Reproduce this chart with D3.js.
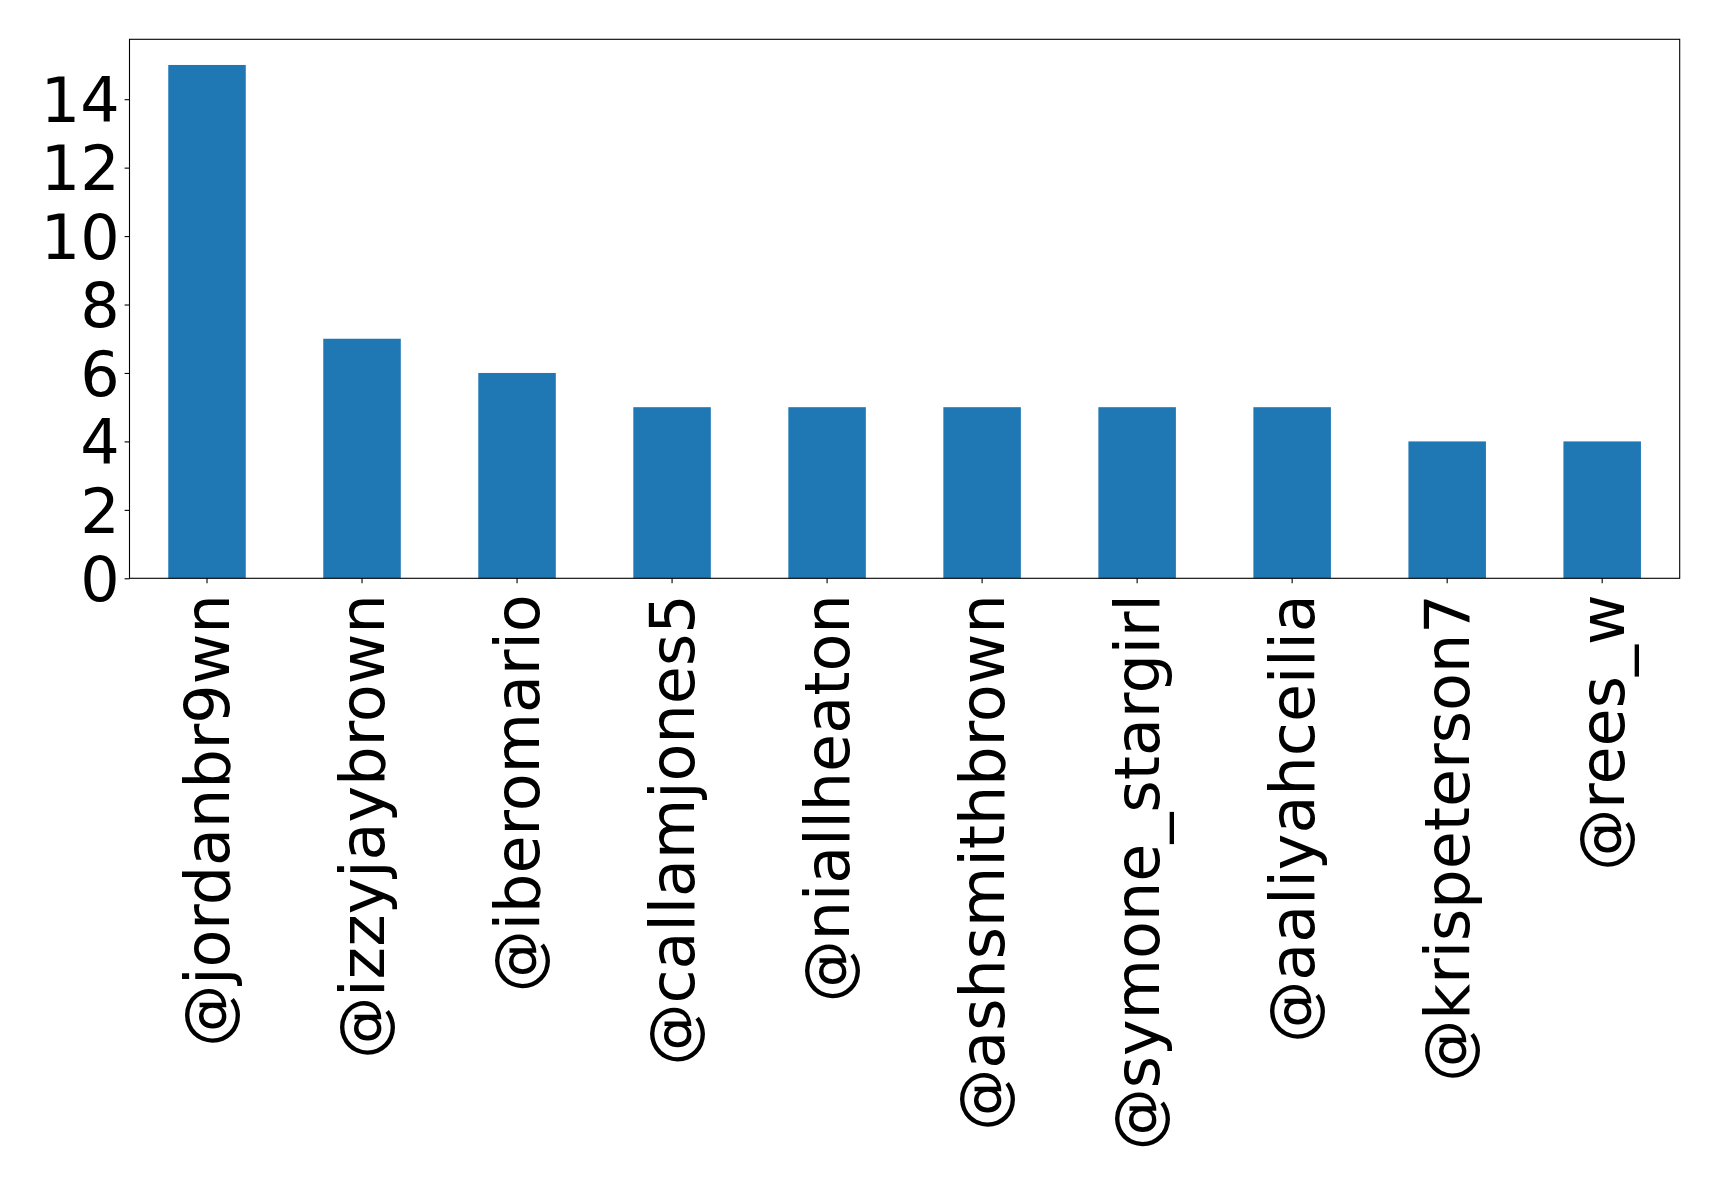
<!DOCTYPE html>
<html>
<head>
<meta charset="utf-8">
<script src="https://cdn.jsdelivr.net/npm/d3@7"></script>
<style>
  html, body { margin: 0; padding: 0; background: #fff; }
  svg { display: block; }
  text { font-family: "DejaVu Sans", sans-serif; }
</style>
</head>
<body>
<script>
const categories = ["@jordanbr9wn", "@izzyjaybrown", "@iberomario", "@callamjones5", "@niallheaton",
                    "@ashsmithbrown", "@symone_stargirl", "@aaliyahceilia", "@krispeterson7", "@rees_w"];
const values = [15, 7, 6, 5, 5, 5, 5, 5, 4, 4];
const yTicks = [0, 2, 4, 6, 8, 10, 12, 14];

const W = 1719, H = 1188;
const m = { left: 129.5, right: W - 1679.7, top: 39.3, bottom: H - 578.3 };
const iw = W - m.left - m.right, ih = H - m.top - m.bottom;

const svg = d3.select("body").append("svg").attr("width", W).attr("height", H);
const g = svg.append("g").attr("transform", `translate(${m.left},${m.top})`);

const x = d3.scaleBand().domain(categories).range([0, iw]).paddingInner(0.5).paddingOuter(0.25);
const y = d3.scaleLinear().domain([0, d3.max(values) * 1.05]).range([ih, 0]);

g.selectAll("rect.bar").data(values).enter().append("rect")
  .attr("class", "bar")
  .attr("x", (d, i) => x(categories[i]))
  .attr("width", x.bandwidth())
  .attr("y", d => y(d))
  .attr("height", d => ih - y(d))
  .attr("fill", "#1f77b4");

const fs = 62;
const yAxis = g.append("g").call(d3.axisLeft(y).tickValues(yTicks).tickSize(4.9).tickPadding(4.9).tickFormat(d3.format("d")));
yAxis.select(".domain").remove();
yAxis.selectAll("line").attr("stroke", "#000").attr("stroke-width", 1.1);
yAxis.selectAll("text").attr("font-size", fs).attr("fill", "#000").attr("dy", "0.36em")
  .attr("font-family", "DejaVu Sans, sans-serif");

const xAxis = g.append("g").attr("transform", `translate(0,${ih})`)
  .call(d3.axisBottom(x).tickSize(4.9).tickPadding(0));
xAxis.select(".domain").remove();
xAxis.selectAll("line").attr("stroke", "#000").attr("stroke-width", 1.1);
xAxis.selectAll("text")
  .attr("font-size", fs).attr("fill", "#000")
  .attr("font-family", "DejaVu Sans, sans-serif")
  .attr("text-anchor", "end")
  .attr("transform", "translate(0,16) rotate(-90)")
  .attr("x", 0).attr("y", 0).attr("dy", "0.35em");

g.append("rect").attr("x", 0).attr("y", 0).attr("width", iw).attr("height", ih)
  .attr("fill", "none").attr("stroke", "#000").attr("stroke-width", 1.1);
</script>
</body>
</html>
